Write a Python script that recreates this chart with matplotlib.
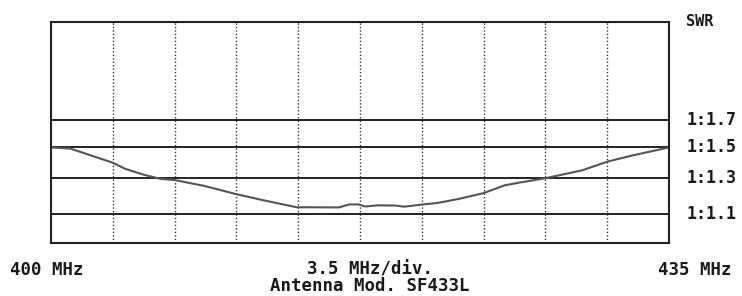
import matplotlib
matplotlib.use('Agg')
import matplotlib.pyplot as plt
from matplotlib.ticker import NullLocator

# SWR sweep
freq_mhz = [400.0, 401.1, 403.5, 404.2, 405.3, 406.2, 407.0, 408.7, 410.5,
            412.0, 413.9, 416.3, 416.9, 417.4, 417.8, 418.5, 419.5, 420.0,
            421.0, 421.9, 423.1, 424.5, 425.7, 426.6, 428.0, 430.1, 431.5,
            433.0, 435.0]
swr = [1.50, 1.492, 1.397, 1.358, 1.320, 1.296, 1.289, 1.254, 1.207,
       1.174, 1.136, 1.135, 1.151, 1.151, 1.140, 1.146, 1.145, 1.139,
       1.150, 1.159, 1.181, 1.213, 1.258, 1.275, 1.300, 1.349, 1.404,
       1.447, 1.50]

ref_levels = [1.7, 1.5, 1.3, 1.1]
ref_labels = ['1:1.7', '1:1.5', '1:1.3', '1:1.1']
f_start, f_stop, f_div = 400.0, 435.0, 3.5

font = dict(family='DejaVu Sans Mono', fontweight='bold', color='#1a1a1a')

fig = plt.figure(figsize=(7.42, 2.96), dpi=100)
ax = fig.add_axes([51 / 742, 53 / 296, 618 / 742, 221 / 296])

ax.set_yscale('log')
ax.set_xlim(f_start, f_stop)
ax.set_ylim(0.962, 2.687)

# dotted division lines
n_div = int(round((f_stop - f_start) / f_div))
for i in range(1, n_div):
    ax.axvline(f_start + i * f_div, color='#333333', linestyle=(0, (1, 1.5)),
               linewidth=1.0)

# solid SWR reference lines
for lvl in ref_levels:
    ax.axhline(lvl, color='#222222', linewidth=1.4)

ax.plot(freq_mhz, swr, color='#555555', linewidth=1.5)

for s in ax.spines.values():
    s.set_color('#222222')
    s.set_linewidth(1.5)
ax.xaxis.set_major_locator(NullLocator())
ax.xaxis.set_minor_locator(NullLocator())
ax.yaxis.set_major_locator(NullLocator())
ax.yaxis.set_minor_locator(NullLocator())

# right side labels
for lvl, lab in zip(ref_levels, ref_labels):
    ax.text(1.028, lvl, lab, transform=ax.get_yaxis_transform(),
            ha='left', va='center', fontsize=12, **font)
fig.text(686 / 742, 1 - 21 / 296, 'SWR', ha='left', va='center',
         fontsize=11, **font)

# bottom labels
fig.text(10 / 742, 1 - 270 / 296, f'{f_start:.0f} MHz', ha='left',
         va='center', fontsize=12.5, **font)
fig.text(732 / 742, 1 - 270 / 296, f'{f_stop:.0f} MHz', ha='right',
         va='center', fontsize=12.5, **font)
fig.text(370 / 742, 1 - 269 / 296, f'{f_div} MHz/div.', ha='center',
         va='center', fontsize=12.5, **font)
fig.text(370 / 742, 1 - 286 / 296, 'Antenna Mod. SF433L', ha='center',
         va='center', fontsize=12.5, **font)

fig.savefig('out.png', dpi=100)
